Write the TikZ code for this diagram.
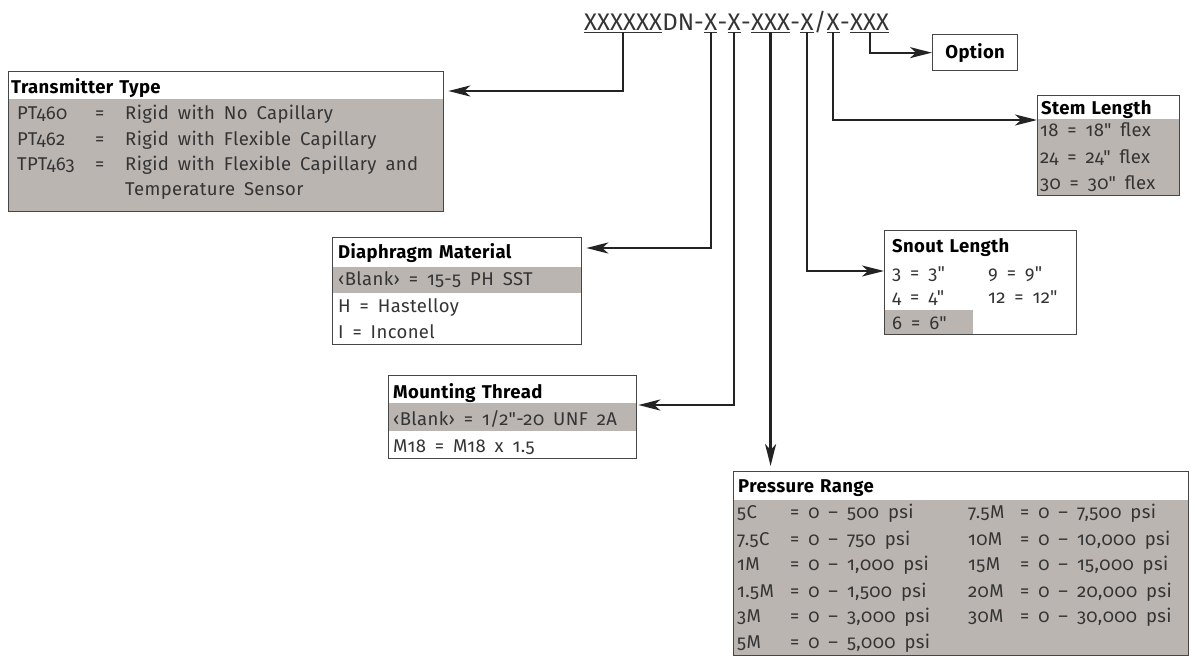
\documentclass[tikz,border=0pt]{standalone}
\usepackage{fontspec}
\setmainfont{Fira Sans}[Numbers=OldStyle, Ligatures=TeXOff]
\newfontfamily\rowfont{Fira Sans}[Numbers=OldStyle, Ligatures=TeXOff, WordSpace=1.8, LetterSpace=2]
\newfontfamily\headfont{Fira Sans}[Numbers=OldStyle, Ligatures=TeXOff, WordSpace=1.3, LetterSpace=2]
\usepackage{tikz}
\usetikzlibrary{arrows.meta, positioning, backgrounds}

\definecolor{rowshade}{RGB}{186,181,177}
\definecolor{rowtext}{RGB}{52,52,52}
\definecolor{leadline}{RGB}{35,35,35}
\definecolor{boxline}{RGB}{70,70,70}

\tikzset{
  box/.style={draw=boxline, line width=1.3pt, inner sep=0pt, anchor=north west},
  lead/.style={draw=leadline, line width=2.2pt, -{Stealth[length=22pt, width=11pt, inset=6pt]}},
  uline/.style={draw=rowtext, line width=1.1pt},
  head/.style={font=\headfont\fontsize{18.5}{21}\selectfont\bfseries, text=black, anchor=base west, inner sep=0pt},
  row/.style={font=\rowfont\fontsize{18.5}{21}\selectfont, text=rowtext, anchor=base west, inner sep=0pt},
  code/.style={font=\fontsize{24}{27}\selectfont, text=rowtext, anchor=base west,
    inner xsep=0pt, inner ysep=2pt, text depth=0pt},
}

\begin{document}
\begin{tikzpicture}[x=1pt, y=-1pt]
    \useasboundingbox (0,0) rectangle (1195,656);

    % Model code
    \node[code] (g1) at (584,30) {XXXXXX};
    \node[code] (s1) at (g1.base east) {DN-};
    \node[code] (g2) at (s1.base east) {X};
    \node[code] (s2) at (g2.base east) {-};
    \node[code] (g3) at (s2.base east) {X};
    \node[code] (s3) at (g3.base east) {-};
    \node[code] (g4) at (s3.base east) {XXX};
    \node[code] (s4) at (g4.base east) {-};
    \node[code] (g5) at (s4.base east) {X};
    \node[code] (s5) at (g5.base east) {/};
    \node[code] (g6) at (s5.base east) {X};
    \node[code] (s6) at (g6.base east) {-};
    \node[code] (g7) at (s6.base east) {XXX};
    \foreach \g in {g1,g2,g3,g4,g5,g6,g7}
        \draw[uline] (\g.south west) -- (\g.south east);

    % Transmitter type
    \node[box, minimum width=435pt, minimum height=140pt] (ttype) at (8,71) {};
    \node[head] (tt-title) at (11,93) {Transmitter Type};
    \foreach \y/\code/\desc [count=\i] in {119/PT460/Rigid with No Capillary,
        145/PT462/Rigid with Flexible Capillary, 170/TPT463/Rigid with Flexible Capillary and}{
        \node[row] (tt-c\i) at (17,\y) {\code};
        \node[row] (tt-e\i) at (95,\y) {=};
        \node[row] (tt-d\i) at (125,\y) {\desc};
    }
    \node[row] (tt-d4) at (125,195) {Temperature Sensor};

    % Diaphragm material
    \node[box, minimum width=249pt, minimum height=107pt] (dmat) at (332,237) {};
    \node[head] (dm-title) at (338,258) {Diaphragm Material};
    \node[row] (dm-1) at (338,285) {‹Blank› = 15-5 PH SST};
    \node[row] (dm-2) at (338,312) {H = Hastelloy};
    \node[row] (dm-3) at (338,338) {I = Inconel};

    % Mounting thread
    \node[box, minimum width=248pt, minimum height=83pt] (mthread) at (388,375) {};
    \node[head] (mt-title) at (393,398) {Mounting Thread};
    \node[row] (mt-1) at (393,425) {‹Blank› = 1/2"-20 UNF 2A};
    \node[row] (mt-2) at (393,452) {M18 = M18 x 1.5};

    % Snout length
    \node[box, minimum width=192pt, minimum height=104pt] (snout) at (884,230) {};
    \node[head] (sn-title) at (892,252) {Snout Length};
    \node[row] (sn-1) at (892,279) {3 = 3"};
    \node[row] (sn-2) at (988,279) {9 = 9"};
    \node[row] (sn-3) at (892,303) {4 = 4"};
    \node[row] (sn-4) at (988,303) {12 = 12"};
    \node[row] (sn-5) at (892,329) {6 = 6"};

    % Stem length
    \node[box, minimum width=142pt, minimum height=100pt] (stem) at (1037,95) {};
    \node[head] (st-title) at (1041,114) {Stem Length};
    \node[row] (st-1) at (1040,136) {18 = 18" flex};
    \node[row] (st-2) at (1040,163) {24 = 24" flex};
    \node[row] (st-3) at (1040,189) {30 = 30" flex};

    % Pressure range
    \node[box, minimum width=455pt, minimum height=184pt] (prange) at (733,471) {};
    \node[head] (pr-title) at (738,492) {Pressure Range};
    \foreach \y/\code/\val [count=\i] in {518/5C/{0 – 500 psi}, 545/7.5C/{0 – 750 psi},
        570/1M/{0 – 1,000 psi}, 597/1.5M/{0 – 1,500 psi}, 622/3M/{0 – 3,000 psi},
        648/5M/{0 – 5,000 psi}}{
        \node[row] (pr-a\i) at (737,\y) {\code};
        \node[row] (pr-b\i) at (790,\y) {= \val};
    }
    \foreach \y/\code/\val [count=\i] in {518/7.5M/{0 – 7,500 psi}, 545/10M/{0 – 10,000 psi},
        570/15M/{0 – 15,000 psi}, 597/20M/{0 – 20,000 psi}, 622/30M/{0 – 30,000 psi}}{
        \node[row] (pr-c\i) at (968,\y) {\code};
        \node[row] (pr-d\i) at (1020,\y) {= \val};
    }

    % Option
    \node[box, minimum width=85pt, minimum height=36pt, font=\headfont\fontsize{18.5}{21}\selectfont\bfseries]
        (option) at (932,34) {Option};

    % Shaded rows
    \begin{scope}[on background layer]
        \fill[rowshade] ([yshift=-28pt]ttype.north west) rectangle (ttype.south east);
        \fill[rowshade] ([yshift=-30pt]dmat.north west) rectangle ([yshift=-56pt]dmat.north east);
        \fill[rowshade] ([yshift=-28pt]mthread.north west) rectangle ([yshift=-56pt]mthread.north east);
        \fill[rowshade] ([yshift=-80pt]snout.north west) rectangle ([xshift=89pt]snout.south west);
        \fill[rowshade] ([yshift=-24pt]stem.north west) rectangle (stem.south east);
        \fill[rowshade] ([yshift=-29pt]prange.north west) rectangle (prange.south east);
    \end{scope}

    % Leaders
    \draw[lead, shorten >=4pt] (g1.south) |- ([yshift=-20pt]ttype.north east);
    \draw[lead, shorten >=4pt] (g2.south) |- ([yshift=-11pt]dmat.north east);
    \draw[lead, shorten >=1pt] (g3.south) |- ([yshift=-30pt]mthread.north east);
    \draw[lead, shorten >=5pt] (g4.south) -- (g4.south |- prange.north);
    \draw[lead] (g5.south) |- ([yshift=-41pt]snout.north west);
    \draw[lead] (g6.south) |- ([yshift=-25pt]stem.north west);
    \draw[lead] (g7.south) |- (option.west);
\end{tikzpicture}
\end{document}
